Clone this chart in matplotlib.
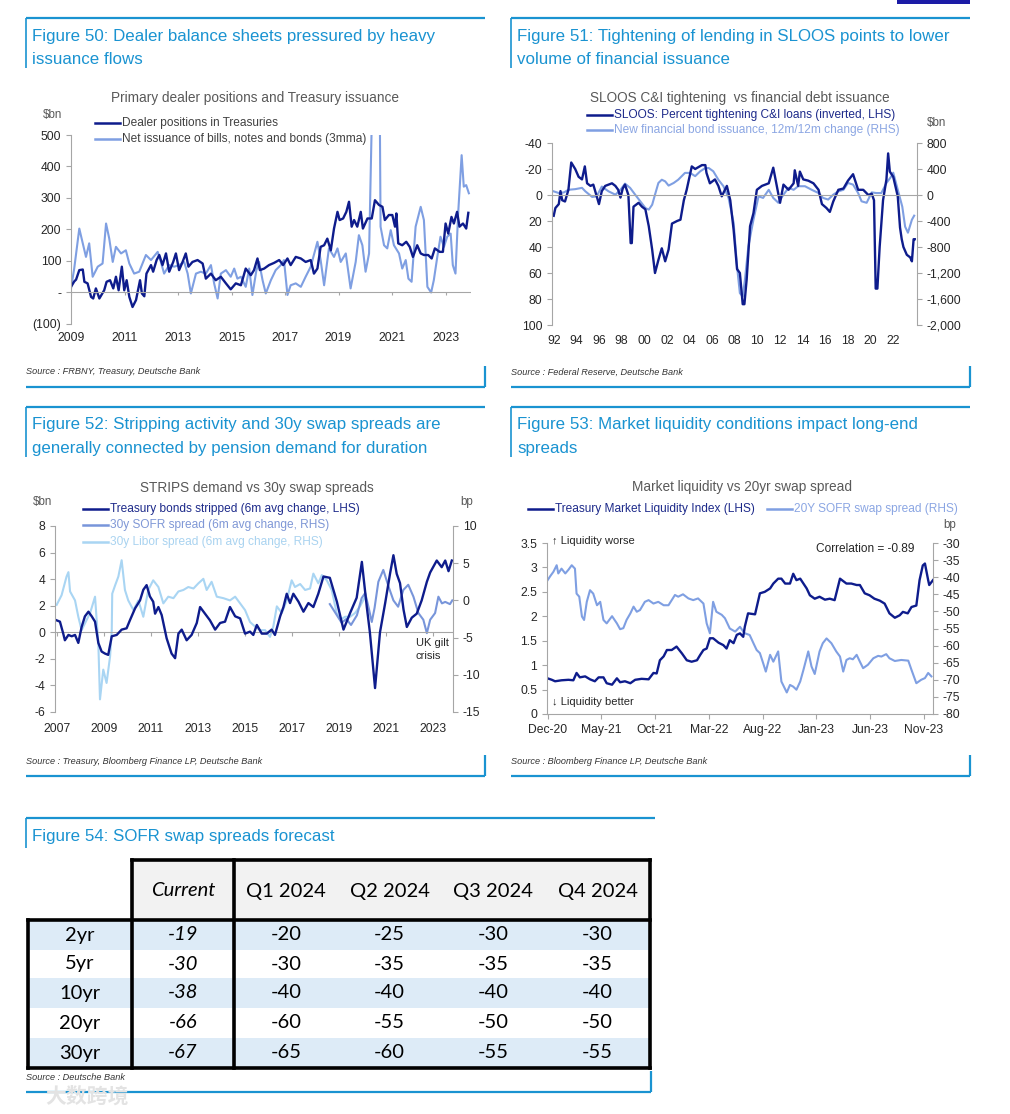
import matplotlib
matplotlib.use("Agg")
import matplotlib.pyplot as plt
from matplotlib.patches import Rectangle

W, H = 1010, 1114
CYAN = '#1a93d1'
NAVY = '#0e1c8c'
LIGHT = '#7f9fe2'
SOFR_C = '#7895da'
LIBOR_C = '#a9d5f3'
GRAY = '#a6a6a6'
TXT = '#404040'
FONT = ['Liberation Sans', 'DejaVu Sans']
plt.rcParams['font.family'] = FONT
plt.rcParams['axes.unicode_minus'] = False

# ---------------- Figure 50 data ----------------
dealer_t = [2009.00, 2009.12, 2009.19, 2009.31, 2009.44, 2009.50, 2009.62, 2009.75, 2009.83, 2009.93,
            2010.06, 2010.24, 2010.33, 2010.46, 2010.58, 2010.68, 2010.78, 2010.90, 2010.99, 2011.08,
            2011.18, 2011.30, 2011.43, 2011.58, 2011.65, 2011.74, 2011.82, 2011.99, 2012.07, 2012.20,
            2012.30, 2012.42, 2012.55, 2012.67, 2012.82, 2012.92, 2013.04, 2013.17, 2013.29, 2013.39,
            2013.54, 2013.73, 2013.92, 2014.04, 2014.23, 2014.41, 2014.60, 2014.79, 2014.97, 2015.16,
            2015.35, 2015.53, 2015.72, 2015.84, 2015.97, 2016.06, 2016.22, 2016.40, 2016.59, 2016.78,
            2016.93, 2017.09, 2017.21, 2017.40, 2017.59, 2017.77, 2017.96, 2018.08, 2018.21, 2018.33,
            2018.46, 2018.58, 2018.71, 2018.83, 2018.96, 2019.04, 2019.17, 2019.29, 2019.39, 2019.49,
            2019.58, 2019.70, 2019.83, 2019.91, 2020.08, 2020.24, 2020.36, 2020.51, 2020.64, 2020.73,
            2020.88, 2021.01, 2021.11, 2021.16, 2021.23, 2021.38, 2021.53, 2021.66, 2021.78, 2021.94,
            2022.07, 2022.19, 2022.35, 2022.48, 2022.60, 2022.78, 2022.90, 2023.00, 2023.10, 2023.22,
            2023.31, 2023.43, 2023.52, 2023.65, 2023.77, 2023.85]
dealer_v = [18, 35, 41, 71, 73, 34, 29, -14, -19, 13,
            -19, 7, 34, 39, 13, 50, 7, 82, 7, 39,
            -14, -46, -24, 39, -3, -12, 60, 87, 66, 103,
            119, 87, 124, 66, 97, 124, 71, 97, 124, 82,
            97, 103, 92, 44, 60, 39, 50, 29, 10, 29,
            23, 76, 55, 71, 108, 71, 76, 87, 94, 103,
            87, 108, 87, 113, 108, 97, 103, 60, 76, 145,
            150, 171, 134, 203, 256, 230, 235, 256, 288, 209,
            230, 209, 256, 203, 235, 235, 293, 278, 272, 230,
            246, 246, 209, 251, 156, 150, 161, 145, 113, 150,
            124, 119, 119, 108, 140, 129, 129, 219, 187, 240,
            219, 256, 209, 219, 203, 253]
issue_t = [2009.00, 2009.12, 2009.31, 2009.44, 2009.56, 2009.68, 2009.81, 2010.00, 2010.18, 2010.31,
           2010.43, 2010.56, 2010.68, 2010.87, 2011.05, 2011.18, 2011.36, 2011.55, 2011.80, 2011.99,
           2012.24, 2012.36, 2012.48, 2012.67, 2012.86, 2013.04, 2013.23, 2013.36, 2013.48, 2013.67,
           2013.85, 2014.04, 2014.23, 2014.35, 2014.48, 2014.60, 2014.79, 2014.97, 2015.10, 2015.22,
           2015.35, 2015.53, 2015.66, 2015.78, 2015.93, 2016.03, 2016.16, 2016.28, 2016.47, 2016.65,
           2016.84, 2016.96, 2017.09, 2017.21, 2017.40, 2017.59, 2017.77, 2017.96, 2018.21, 2018.33,
           2018.46, 2018.64, 2018.83, 2018.96, 2019.08, 2019.27, 2019.45, 2019.64, 2019.76, 2019.89,
           2020.01, 2020.14, 2020.26, 2020.32, 2020.45, 2020.54, 2020.57, 2020.70, 2020.82, 2020.95,
           2021.07, 2021.26, 2021.38, 2021.51, 2021.61, 2021.73, 2021.88, 2022.07, 2022.19, 2022.32,
           2022.46, 2022.56, 2022.69, 2022.81, 2022.94, 2023.06, 2023.19, 2023.27, 2023.37, 2023.47,
           2023.60, 2023.68, 2023.77, 2023.87]
issue_v = [13, 76, 203, 156, 113, 156, 50, 82, 92, 219,
           171, 97, 145, 124, 134, 92, 60, 66, 119, 103,
           129, 97, 60, 87, 82, 87, 97, 60, -3, 60,
           66, 60, 87, 29, -19, 60, 71, 50, 76, 44,
           50, 18, 76, -8, 71, 97, 39, -3, 39, 71,
           87, 103, -8, 23, 29, 18, 50, 82, 161, 103,
           23, 140, 113, 140, 97, 124, 13, 97, 182, 150,
           66, 124, 620, 700, 640, 600, 209, 150, 140, 198,
           150, 124, 76, 103, 44, 34, 209, 272, 230, 18,
           0, 39, 113, 177, 145, 177, 187, 87, 60, 251,
           436, 336, 341, 315]
f50_ticks = [-100, 0, 100, 200, 300, 400, 500]
f50_ticklabels = ['(100)', '-', '100', '200', '300', '400', '500']
f50_years = [2009, 2011, 2013, 2015, 2017, 2019, 2021, 2023]

# ---------------- Figure 51 data ----------------
sloos_t = [1992.0, 1992.15, 1992.45, 1992.6, 1992.75, 1993.0, 1993.3, 1993.55, 1993.9, 1994.2,
           1994.5, 1994.75, 1994.95, 1995.25, 1995.5, 1996.0, 1996.25, 1996.55, 1997.15, 1997.45,
           1997.7, 1997.9, 1998.1, 1998.3, 1998.6, 1998.8, 1998.9, 1999.05, 1999.5, 1999.8,
           2000.1, 2000.4, 2000.7, 2000.95, 2001.25, 2001.55, 2001.85, 2002.15, 2002.45, 2002.9,
           2003.2, 2003.5, 2003.75, 2004.2, 2004.5, 2005.1, 2005.4, 2005.5, 2005.8, 2006.25,
           2006.55, 2006.85, 2007.3, 2007.6, 2007.9, 2008.2, 2008.45, 2008.7, 2008.85, 2009.05,
           2009.35, 2009.65, 2009.95, 2010.4, 2011.0, 2011.4, 2011.6, 2012.0, 2012.3, 2012.75,
           2013.2, 2013.3, 2013.6, 2013.75, 2014.05, 2014.5, 2014.95, 2015.4, 2015.7, 2016.1,
           2016.4, 2016.7, 2017.15, 2017.6, 2018.0, 2018.45, 2018.9, 2019.35, 2019.8, 2020.1,
           2020.3, 2020.45, 2020.6, 2020.8, 2021.1, 2021.4, 2021.55, 2021.7, 2022.0, 2022.4,
           2022.6, 2022.75, 2022.9, 2023.2, 2023.5, 2023.65, 2023.8, 2023.9]
sloos_v = [16, 10, 7, -3, 4, 5, -4, -25, -20, -14,
           -12, -22, -9, -7, -8, 7, -3, -7, -9, -7,
           -4, 2, -5, -8, 0, 37, 37, 9, 6, 9,
           11, 24, 42, 60, 50, 41, 51, 42, 22, 20,
           19, 4, -4, -22, -20, -23, -23, -17, -9, -12,
           -7, 1, -7, 4, 27, 57, 60, 84, 84, 65,
           24, 14, -4, -7, -9, -21, -12, 6, -8, -4,
           -9, -19, -7, -18, -12, -11, -9, -4, 7, 10,
           13, 5, -4, -5, -11, -16, -4, -4, 0, -1,
           4, 72, 72, 40, 4, -12, -32, -18, -14, 1,
           25, 34, 40, 46, 48, 51, 34, 34]
finiss_t = [1992.0, 1992.45, 1992.9, 1993.3, 1993.9, 1994.5, 1994.8, 1995.4, 1995.8, 1996.25,
            1996.85, 1997.45, 1997.9, 1998.3, 1998.75, 1999.2, 1999.65, 2000.1, 2000.4, 2000.7,
            2000.95, 2001.25, 2001.55, 2001.85, 2002.15, 2002.6, 2003.0, 2003.6, 2004.05, 2004.5,
            2004.95, 2005.4, 2005.7, 2006.1, 2006.55, 2007.0, 2007.45, 2007.9, 2008.2, 2008.45,
            2008.7, 2008.9, 2009.2, 2009.65, 2010.1, 2010.5, 2011.0, 2011.4, 2011.85, 2012.3,
            2012.75, 2013.2, 2013.6, 2014.2, 2014.8, 2015.4, 2015.8, 2016.25, 2016.7, 2017.15,
            2017.6, 2018.0, 2018.45, 2018.9, 2019.2, 2019.65, 2020.1, 2020.5, 2020.95, 2021.4,
            2021.85, 2022.0, 2022.4, 2022.8, 2023.05, 2023.3, 2023.65, 2023.85]
finiss_v = [56, 30, 40, 80, 90, 110, 56, -30, -20, 130,
            56, 5, 80, 175, 110, 5, -97, -200, -225, -150,
            5, 185, 235, 210, 145, 185, 235, 340, 340, 290,
            365, 415, 415, 365, 235, 135, -45, -430, -1100, -1510,
            -1560, -1300, -790, -380, -20, -45, 80, -45, -120, 5,
            110, 80, 135, 135, 80, 30, -45, -70, 5, 56,
            80, 185, 160, 30, -97, -120, 40, 30, 30, 185,
            290, 343, 82, -180, -487, -580, -380, -318]
f51_lticks = [-40, -20, 0, 20, 40, 60, 80, 100]
f51_rticks = [800, 400, 0, -400, -800, -1200, -1600, -2000]
f51_years = list(range(1992, 2023, 2))

# ---------------- Figure 52 data ----------------
strips_t = [2007.0, 2007.14, 2007.28, 2007.35, 2007.5, 2007.64, 2007.78, 2007.92, 2008.06, 2008.2,
            2008.35, 2008.49, 2008.63, 2008.77, 2008.91, 2009.05, 2009.19, 2009.34, 2009.55, 2009.76,
            2009.97, 2010.11, 2010.33, 2010.54, 2010.68, 2010.82, 2010.96, 2011.1, 2011.18, 2011.32,
            2011.46, 2011.67, 2011.88, 2012.03, 2012.17, 2012.31, 2012.52, 2012.73, 2012.95, 2013.09,
            2013.3, 2013.51, 2013.73, 2013.94, 2014.15, 2014.36, 2014.58, 2014.79, 2015.0, 2015.21,
            2015.35, 2015.5, 2015.71, 2015.92, 2016.13, 2016.27, 2016.49, 2016.63, 2016.77, 2016.91,
            2017.05, 2017.27, 2017.48, 2017.69, 2017.9, 2018.11, 2018.33, 2018.6, 2018.9, 2019.18,
            2019.46, 2019.74, 2019.96, 2020.17, 2020.3, 2020.52, 2020.73, 2020.95, 2021.16, 2021.3,
            2021.44, 2021.58, 2021.73, 2021.87, 2022.08, 2022.29, 2022.5, 2022.72, 2022.86, 2023.14,
            2023.35, 2023.5, 2023.64, 2023.78]
strips_v = [0.9, 0.8, -0.1, -0.6, -0.2, -0.3, -0.2, -0.8, 0.4, 1.2,
            1.55, 1.2, 0.8, -0.8, -1.45, -1.6, -1.7, -0.3, -0.2, 0.2,
            0.3, 0.9, 1.8, 2.4, 3.2, 3.55, 2.7, 2.3, 1.4, 1.9,
            1.3, -0.45, -1.6, -1.95, -0.1, 0.2, -0.6, -0.2, 0.7, 1.9,
            1.4, 0.9, 0.2, 0.7, 0.8, 1.9, 1.2, 1.05, -0.1, 0.05,
            -0.2, 0.55, -0.1, -0.1, 0.2, -0.2, 1.2, 1.9, 2.9, 2.2,
            2.9, 2.3, 1.55, 2.2, 1.9, 2.9, 4.2, 4.1, 2.3, 0.2,
            1.45, 2.6, 5.3, 1.9, 0.0, -4.2, 0.0, 2.2, 4.45, 5.8,
            4.4, 3.7, 1.7, 0.4, 1.1, 1.4, 2.4, 3.8, 4.5, 5.4,
            4.9, 5.4, 4.6, 5.4]
sofr30_t = [2018.6, 2018.9, 2019.1, 2019.3, 2019.5, 2019.75, 2019.95, 2020.1, 2020.25, 2020.38,
            2020.5, 2020.66, 2020.87, 2021.1, 2021.3, 2021.5, 2021.72, 2021.93, 2022.15, 2022.36,
            2022.57, 2022.72, 2022.86, 2023.07, 2023.21, 2023.36, 2023.5, 2023.7, 2023.8]
sofr30_v = [-0.5, -2.0, -3.0, -2.5, -3.3, -2.0, 0.3, 1.0, -1.0, -2.9,
            -1.0, 2.5, 4.1, 1.8, 0.0, -0.85, 1.4, 2.1, 0.5, -1.7,
            -2.6, -4.4, -2.6, -1.7, 0.5, -0.4, -0.2, -0.5, 0.0]
libor_t = [2007.0, 2007.21, 2007.42, 2007.5, 2007.57, 2007.78, 2007.92, 2008.06, 2008.2, 2008.42,
           2008.63, 2008.77, 2008.84, 2008.98, 2009.12, 2009.27, 2009.34, 2009.36, 2009.48, 2009.62,
           2009.76, 2009.9, 2010.04, 2010.26, 2010.47, 2010.68, 2010.89, 2011.1, 2011.32, 2011.53,
           2011.74, 2011.96, 2012.17, 2012.38, 2012.59, 2012.81, 2013.02, 2013.23, 2013.37, 2013.58,
           2013.8, 2014.08, 2014.36, 2014.58, 2014.79, 2015.0, 2015.21, 2015.42, 2015.64, 2015.85,
           2016.06, 2016.2, 2016.35, 2016.56, 2016.77, 2016.98, 2017.12, 2017.34, 2017.55, 2017.76,
           2017.9, 2018.11, 2018.26, 2018.47, 2018.68, 2018.89, 2019.04, 2019.25, 2019.46, 2019.67,
           2019.88, 2020.1]
libor_v = [-0.6, 0.7, 3.2, 3.8, 1.2, 0.0, -2.2, -4.0, -3.1, -1.7,
           0.5, -5.8, -13.3, -9.3, -11.1, -7.5, -4.0, 0.9, 2.0, 3.2,
           5.4, 1.4, 0.0, -1.3, 0.0, -2.2, 1.4, 2.7, 1.8, -0.4,
           0.5, 0.3, 1.2, 1.4, 1.8, 1.6, 2.3, 2.9, 1.4, 2.5,
           0.5, 0.3, 0.0, 0.5, -0.4, -1.3, -2.9, -3.5, -4.0, -4.0,
           -4.9, -3.5, -0.8, -1.7, 0.0, 2.7, 1.8, 2.2, 1.4, 1.6,
           3.6, 2.3, 3.4, 2.7, 1.4, -1.7, -2.6, -2.2, -2.2, -1.7,
           -0.8, 0.5]
f52_lticks = [-6, -4, -2, 0, 2, 4, 6, 8]
f52_rticks = [-15, -10, -5, 0, 5, 10]
f52_years = list(range(2007, 2024, 2))

# ---------------- Figure 53 data (x = months since Dec-20) ----------------
liq_m = [0, 0.4, 0.7, 1.3, 1.95, 2.4, 2.7, 3.0, 3.5, 3.95, 4.4, 4.75, 5.2, 5.5, 6.0, 6.45, 6.75,
         7.2, 7.7, 8.15, 8.75, 9.4, 9.85, 10.15, 10.45, 10.8, 11.1, 11.55, 12.0, 12.5, 12.95, 13.4,
         13.9, 14.2, 14.5, 14.8, 15.1, 15.4, 15.9, 16.35, 16.65, 16.95, 17.3, 17.6, 17.9, 18.2,
         18.35, 18.65, 19.3, 19.75, 20.2, 20.7, 21.0, 21.45, 21.75, 22.1, 22.55, 22.85, 23.15,
         23.5, 23.8, 24.1, 24.4, 24.85, 25.3, 25.8, 26.25, 26.7, 27.2, 27.8, 28.25, 28.75, 29.05,
         29.5, 29.95, 30.4, 30.9, 31.35, 31.8, 32.3, 32.75, 33.05, 33.5, 33.85, 34.3, 34.6, 34.9,
         35.1, 35.4, 35.5, 35.85]
liq_v = [0.73, 0.70, 0.67, 0.69, 0.70, 0.69, 0.84, 0.75, 0.77, 0.71, 0.67, 0.75, 0.75, 0.63, 0.60,
         0.73, 0.65, 0.67, 0.63, 0.70, 0.72, 0.71, 0.84, 0.83, 1.10, 1.18, 1.31, 1.31, 1.38, 1.24,
         1.10, 1.07, 1.10, 1.21, 1.31, 1.34, 1.55, 1.55, 1.46, 1.41, 1.34, 1.51, 1.45, 1.62, 1.65,
         1.58, 1.79, 2.06, 2.04, 2.47, 2.50, 2.57, 2.67, 2.77, 2.77, 2.67, 2.67, 2.87, 2.74, 2.77,
         2.67, 2.57, 2.43, 2.36, 2.40, 2.34, 2.36, 2.33, 2.77, 2.67, 2.67, 2.64, 2.64, 2.47, 2.43,
         2.36, 2.32, 2.26, 2.06, 1.97, 2.02, 2.09, 2.06, 2.19, 2.22, 2.74, 3.04, 3.08, 2.74, 2.64,
         2.74]
sofr20_m = [0, 0.25, 0.55, 0.85, 1.0, 1.3, 1.65, 1.95, 2.25, 2.55, 2.7, 2.95, 3.2, 3.4, 3.65, 3.95,
            4.25, 4.6, 4.9, 5.2, 5.5, 6.0, 6.45, 6.75, 7.05, 7.35, 7.7, 8.0, 8.3, 8.6, 9.05, 9.4,
            9.85, 10.3, 10.8, 11.25, 11.55, 11.85, 12.15, 12.6, 13.1, 13.55, 14.0, 14.5, 14.8, 15.1,
            15.4, 15.7, 16.2, 16.5, 16.95, 17.45, 17.9, 18.1, 18.35, 18.8, 19.15, 19.45, 19.75,
            20.05, 20.3, 20.7, 21.0, 21.45, 21.75, 22.25, 22.55, 22.85, 23.15, 23.5, 23.8, 24.25,
            24.55, 24.85, 25.3, 25.6, 25.95, 26.4, 26.85, 27.2, 27.5, 27.8, 28.1, 28.4, 28.75, 29.05,
            29.35, 29.8, 30.3, 30.75, 31.05, 31.5, 31.8, 32.3, 32.9, 33.55, 33.85, 34.3, 34.75, 35.1,
            35.4, 35.7]
sofr20_v = [-40.9, -39.7, -38.4, -36.5, -38.9, -37.5, -38.9, -37.8, -36.5, -37.5, -44.8, -45.7,
            -51.5, -52.5, -47.2, -43.8, -44.8, -48.2, -47.2, -52.5, -53.5, -51.4, -53.5, -55.2,
            -54.9, -52.5, -50.6, -48.6, -50.1, -49.6, -47.2, -46.7, -47.7, -47.2, -48.2, -48.2,
            -46.7, -45.2, -45.7, -45.0, -46.2, -46.7, -46.2, -47.7, -53.5, -56.4, -47.2, -50.1,
            -51.0, -52.0, -55.0, -55.9, -54.5, -55.4, -56.4, -56.9, -59.3, -61.3, -62.2, -65.1,
            -67.6, -62.7, -64.7, -61.7, -70.5, -73.7, -71.5, -72.0, -72.9, -70.5, -67.1, -61.7,
            -66.1, -68.3, -61.7, -59.3, -57.9, -59.3, -61.7, -63.2, -67.6, -64.2, -63.7, -64.0,
            -62.7, -64.7, -66.6, -65.6, -63.7, -63.0, -63.2, -62.5, -63.7, -64.5, -64.2, -64.4,
            -67.1, -71.0, -70.0, -69.5, -68.0, -69.0]
f53_lticks = [0, 0.5, 1, 1.5, 2, 2.5, 3, 3.5]
f53_lticklabels = ['0', '0.5', '1', '1.5', '2', '2.5', '3', '3.5']
f53_rticks = list(range(-80, -29, 5))
f53_months = [0, 5, 10, 15, 20, 25, 30, 35]
f53_monthlabels = ['Dec-20', 'May-21', 'Oct-21', 'Mar-22', 'Aug-22', 'Jan-23', 'Jun-23', 'Nov-23']

# ---------------- Figure 54 table ----------------
tenors = ['2yr', '5yr', '10yr', '20yr', '30yr']
columns = ['Current', 'Q1 2024', 'Q2 2024', 'Q3 2024', 'Q4 2024']
current = [-19, -30, -38, -66, -67]
q1_2024 = [-20, -30, -40, -60, -65]
q2_2024 = [-25, -35, -40, -55, -60]
q3_2024 = [-30, -35, -40, -50, -55]
q4_2024 = [-30, -35, -40, -50, -55]

fig = plt.figure(figsize=(W / 100, H / 100), dpi=100)
bg = fig.add_axes([0, 0, 1, 1])
bg.set_xlim(0, W)
bg.set_ylim(H, 0)
bg.axis('off')

TITLE_FS = 9.8
LEG_FS = 8.6


def px_axes(x0, y0, x1, y1):
    return fig.add_axes([x0 / W, 1 - y1 / H, (x1 - x0) / W, (y1 - y0) / H])


def frame(x0, x1, ytop, ybot, lines, source, vlen=50):
    bg.plot([x0, x1], [ytop, ytop], color=CYAN, lw=1.6, solid_capstyle='butt')
    bg.plot([x0, x0], [ytop, ytop + vlen], color=CYAN, lw=1.2, solid_capstyle='butt')
    for i, t in enumerate(lines):
        bg.text(x0 + 6, ytop + 18 + 23 * i, t, color=CYAN, fontsize=12.2, va='center')
    if source:
        bg.text(x0, ybot - 15, source, style='italic', fontsize=6.6, color='#333333', va='center')
        bg.plot([x0, x1], [ybot, ybot], color=CYAN, lw=1.6, solid_capstyle='butt')
        bg.plot([x1, x1], [ybot - 21, ybot], color=CYAN, lw=1.6, solid_capstyle='butt')


def legend_item(x, y, color, label, tcolor):
    bg.plot([x, x + 25], [y, y], color=color, lw=1.8)
    bg.text(x + 27, y, label, color=tcolor, fontsize=LEG_FS, va='center')


def style_axis(ax, right=False):
    for s in ['top', 'right', 'bottom', 'left']:
        ax.spines[s].set_visible(False)
    side = 'right' if right else 'left'
    ax.spines[side].set_visible(True)
    ax.spines[side].set_color(GRAY)
    ax.spines[side].set_linewidth(0.8)
    ax.tick_params(axis='y', colors=GRAY, labelcolor='#262626', labelsize=8.7,
                   length=3.5, width=0.8, direction='out')
    ax.patch.set_alpha(0)


# top-right dark bar
bg.add_patch(Rectangle((897, 0), 73, 3.5, color='#1b1ba6', lw=0))

# ================= Figure 50 =================
frame(26, 485, 18, 387, ['Figure 50: Dealer balance sheets pressured by heavy', 'issuance flows'],
      'Source : FRBNY, Treasury, Deutsche Bank')
ax = px_axes(71, 135, 471, 324)
style_axis(ax)
ax.set_xlim(2009, 2023.95)
ax.set_ylim(-100, 500)
ax.plot(issue_t, issue_v, color=LIGHT, lw=1.5)
ax.plot(dealer_t, dealer_v, color=NAVY, lw=1.7)
ax.axhline(0, color=GRAY, lw=0.8)
ax.vlines(f50_years, -9, 0, color=GRAY, lw=0.8)
ax.set_yticks(f50_ticks)
ax.set_yticklabels(f50_ticklabels)
ax.set_xticks(f50_years)
ax.tick_params(axis='x', length=0, pad=6, labelsize=8.7, labelcolor='#262626')
bg.text(255, 98, 'Primary dealer positions and Treasury issuance', ha='center', va='center',
        fontsize=TITLE_FS, color='#595959')
bg.text(53, 115, '$bn', ha='center', va='center', fontsize=8.4, color='#595959')
legend_item(95, 123, NAVY, 'Dealer positions in Treasuries', TXT)
legend_item(95, 139, LIGHT, 'Net issuance of bills, notes and bonds (3mma)', TXT)

# ================= Figure 51 =================
frame(511, 970, 18, 387, ['Figure 51: Tightening of lending in SLOOS points to lower',
                          'volume of financial issuance'], 'Source : Federal Reserve, Deutsche Bank')
ax = px_axes(552, 143, 917, 325)
style_axis(ax)
ax.set_xlim(1991.85, 2024.1)
ax.set_ylim(100, -40)
ax.plot(sloos_t, sloos_v, color=NAVY, lw=1.7)
ax.axhline(0, color=GRAY, lw=0.8)
ax.set_yticks(f51_lticks)
ax.set_xticks(f51_years)
ax.set_xticklabels(['%02d' % (y % 100) for y in f51_years])
ax.tick_params(axis='x', length=0, pad=7, labelsize=8.7, labelcolor='#262626')
ax2 = ax.twinx()
style_axis(ax2, right=True)
ax2.set_ylim(-2000, 800)
ax2.plot(finiss_t, finiss_v, color=LIGHT, lw=1.5, zorder=1)
ax2.set_yticks(f51_rticks)
ax2.set_yticklabels(['{:,}'.format(v) for v in f51_rticks])
ax.set_zorder(ax2.get_zorder() + 1)
bg.text(740, 98, 'SLOOS C&I tightening  vs financial debt issuance', ha='center', va='center',
        fontsize=TITLE_FS, color='#595959')
bg.text(937, 123, '$bn', ha='center', va='center', fontsize=8.4, color='#595959')
legend_item(587, 115, NAVY, 'SLOOS: Percent tightening C&I loans (inverted, LHS)', '#1d2a8a')
legend_item(587, 130, LIGHT, 'New financial bond issuance, 12m/12m change (RHS)', '#8ba6e3')

# ================= Figure 52 =================
frame(26, 485, 407, 776, ['Figure 52: Stripping activity and 30y swap spreads are',
                          'generally connected by pension demand for duration'],
      'Source : Treasury, Bloomberg Finance LP, Deutsche Bank')
ax = px_axes(55, 526, 453, 712)
style_axis(ax)
ax.set_xlim(2006.93, 2023.83)
ax.set_ylim(-6, 8)
ax.axhline(0, color=GRAY, lw=0.8)
ax.vlines(f52_years, -0.28, 0, color=GRAY, lw=0.8)
ax.set_yticks(f52_lticks)
ax.set_xticks(f52_years)
ax.tick_params(axis='x', length=0, pad=8, labelsize=8.7, labelcolor='#262626')
ax2 = ax.twinx()
style_axis(ax2, right=True)
ax2.set_ylim(-15, 10)
ax2.plot(libor_t, libor_v, color=LIBOR_C, lw=1.5)
ax2.plot(sofr30_t, sofr30_v, color=SOFR_C, lw=1.5)
ax2.set_yticks(f52_rticks)
ax.set_zorder(ax2.get_zorder() + 1)
ax.plot(strips_t, strips_v, color=NAVY, lw=1.7)
bg.text(257, 488, 'STRIPS demand vs 30y swap spreads', ha='center', va='center',
        fontsize=TITLE_FS, color='#595959')
bg.text(43, 502, '$bn', ha='center', va='center', fontsize=8.4, color='#595959')
bg.text(467, 502, 'bp', ha='center', va='center', fontsize=8.4, color='#595959')
legend_item(83, 509, NAVY, 'Treasury bonds stripped (6m avg change, LHS)', '#1d2a8a')
legend_item(83, 525, SOFR_C, '30y SOFR spread (6m avg change, RHS)', '#7f97d6')
legend_item(83, 542, LIBOR_C, '30y Libor spread (6m avg change, RHS)', '#a9d3f0')
bg.text(416, 643, 'UK gilt', fontsize=8, color='#262626', va='center')
bg.text(416, 656, 'crisis', fontsize=8, color='#262626', va='center')

# ================= Figure 53 =================
frame(511, 970, 407, 776, ['Figure 53: Market liquidity conditions impact long-end', 'spreads'],
      'Source : Bloomberg Finance LP, Deutsche Bank')
ax = px_axes(547, 543, 933, 714)
style_axis(ax)
ax.spines['bottom'].set_visible(True)
ax.spines['bottom'].set_color(GRAY)
ax.spines['bottom'].set_linewidth(0.8)
ax.set_xlim(-0.05, 35.85)
ax.set_ylim(0, 3.5)
ax.set_yticks(f53_lticks)
ax.set_yticklabels(f53_lticklabels)
ax.set_xticks(f53_months)
ax.set_xticklabels(f53_monthlabels)
ax.tick_params(axis='x', colors=GRAY, labelcolor='#262626', labelsize=8.7, length=3.5, width=0.8, pad=4)
ax2 = ax.twinx()
style_axis(ax2, right=True)
ax2.set_ylim(-80, -30)
ax2.plot(sofr20_m, sofr20_v, color=LIGHT, lw=1.5)
ax2.set_yticks(f53_rticks)
ax.set_zorder(ax2.get_zorder() + 1)
ax.plot(liq_m, liq_v, color=NAVY, lw=1.7)
bg.text(742, 487, 'Market liquidity vs 20yr swap spread', ha='center', va='center',
        fontsize=TITLE_FS, color='#595959')
bg.text(950, 525, 'bp', ha='center', va='center', fontsize=8.4, color='#595959')
legend_item(528, 509, NAVY, 'Treasury Market Liquidity Index (LHS)', '#1d2a8a')
legend_item(767, 509, LIGHT, '20Y SOFR swap spread (RHS)', '#8ba6e3')
bg.text(552, 541, '↑ Liquidity worse', fontsize=8, color='#262626', va='center')
bg.text(552, 702, '↓ Liquidity better', fontsize=8, color='#262626', va='center')
bg.text(865, 549, 'Correlation = -0.89', ha='center', fontsize=8.6, color='#262626', va='center')

# ================= Figure 54 (table) =================
frame(26, 655, 818, 1092, ['Figure 54: SOFR swap spreads forecast'], None, vlen=30)
bg.text(26, 1077, 'Source : Deutsche Bank', style='italic', fontsize=6.6, color='#333333', va='center')
bg.plot([26, 651], [1092, 1092], color=CYAN, lw=1.6, solid_capstyle='butt')
bg.plot([651, 651], [1071, 1092], color=CYAN, lw=1.6, solid_capstyle='butt')

col_edges = [28, 132, 234, 338, 441, 545, 650]
row_edges = [920, 950, 978, 1008, 1038, 1068]
head_top = 860
TFONT = ['Lato', 'DejaVu Sans']
bg.add_patch(Rectangle((132, head_top), 650 - 132, 920 - head_top, color='#f2f2f2', lw=0))
for i in range(len(tenors)):
    fc = '#ddebf7' if i % 2 == 0 else 'white'
    bg.add_patch(Rectangle((28, row_edges[i]), 650 - 28, row_edges[i + 1] - row_edges[i],
                           color=fc, lw=0))
for j, c in enumerate(columns):
    cx = (col_edges[j + 1] + col_edges[j + 2]) / 2
    bg.text(cx, 891, c, ha='center', va='center', fontsize=14.5, family=TFONT,
            style='italic' if j == 0 else 'normal', color='black')
table_cols = [current, q1_2024, q2_2024, q3_2024, q4_2024]
for i, t in enumerate(tenors):
    cy = (row_edges[i] + row_edges[i + 1]) / 2
    bg.text((col_edges[0] + col_edges[1]) / 2, cy, t, ha='center', va='center', fontsize=14.5,
            family=TFONT, color='black')
    for j, col in enumerate(table_cols):
        cx = (col_edges[j + 1] + col_edges[j + 2]) / 2
        bg.text(cx, cy, str(col[i]), ha='center', va='center', fontsize=14.5, family=TFONT,
                style='italic' if j == 0 else 'normal', color='black')
BLW = 2.6
bg.plot([132, 650], [head_top, head_top], color='black', lw=BLW, solid_capstyle='projecting')
bg.plot([28, 650], [920, 920], color='black', lw=BLW, solid_capstyle='projecting')
bg.plot([28, 650], [1068, 1068], color='black', lw=BLW, solid_capstyle='projecting')
bg.plot([28, 28], [920, 1068], color='black', lw=BLW, solid_capstyle='projecting')
bg.plot([132, 132], [head_top, 1068], color='black', lw=BLW, solid_capstyle='projecting')
bg.plot([234, 234], [head_top, 1068], color='black', lw=BLW, solid_capstyle='projecting')
bg.plot([650, 650], [head_top, 1068], color='black', lw=BLW, solid_capstyle='projecting')

# faint watermark
bg.text(45, 1096, '大数跨境', fontsize=15, color='#e3e3e3', va='center',
        family=['Noto Sans CJK SC', 'DejaVu Sans'], fontweight='bold')

fig.savefig('out.png', dpi=100)
